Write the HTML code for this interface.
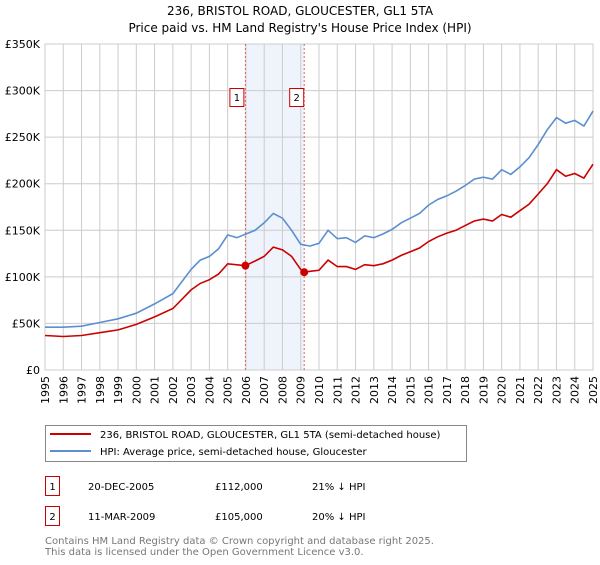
<!DOCTYPE html>
<html><head><meta charset="utf-8"><style>
body{margin:0;background:#fff;font-family:"Liberation Sans","DejaVu Sans",sans-serif;}
svg text{font-family:"DejaVu Sans","Liberation Sans",sans-serif;}
</style></head><body>
<svg width="600" height="560" xmlns="http://www.w3.org/2000/svg" id="chart">
<text x="300" y="15" text-anchor="middle" font-size="12">236, BRISTOL ROAD, GLOUCESTER, GL1 5TA</text>
<text x="300" y="32" text-anchor="middle" font-size="12">Price paid vs. HM Land Registry's House Price Index (HPI)</text>
<g id="plot"></g>
<g>
<rect x="45.5" y="425.5" width="421" height="36" fill="#fff" stroke="#888"/>
<line x1="50" y1="434" x2="91" y2="434" stroke="#cc0000" stroke-width="2"/>
<text x="100" y="438" font-size="10">236, BRISTOL ROAD, GLOUCESTER, GL1 5TA (semi-detached house)</text>
<line x1="50" y1="451" x2="91" y2="451" stroke="#5b8fd0" stroke-width="2"/>
<text x="100" y="455" font-size="10">HPI: Average price, semi-detached house, Gloucester</text>
</g>
<g font-size="10">
<rect x="45.5" y="476.5" width="14" height="19" fill="#fff" stroke="#cc0000"/>
<text x="52.5" y="490" text-anchor="middle">1</text>
<text x="88" y="490">20-DEC-2005</text><text x="215" y="490">£112,000</text><text x="312" y="490">21% ↓ HPI</text>
<rect x="45.5" y="506.5" width="14" height="19" fill="#fff" stroke="#cc0000"/>
<text x="52.5" y="520" text-anchor="middle">2</text>
<text x="88" y="520">11-MAR-2009</text><text x="215" y="520">£105,000</text><text x="312" y="520">20% ↓ HPI</text>
</g>
<text x="45" y="544" font-size="10" fill="#777">Contains HM Land Registry data © Crown copyright and database right 2025.</text>
<text x="45" y="555" font-size="10" fill="#777">This data is licensed under the Open Government Licence v3.0.</text>
</svg>
<script>
const hpiYears=[1995,1996,1997,1998,1999,2000,2001,2002,2003,2003.5,2004,2004.5,2005,2005.5,2006,2006.5,2007,2007.5,2008,2008.5,2009,2009.5,2010,2010.5,2011,2011.5,2012,2012.5,2013,2013.5,2014,2014.5,2015,2015.5,2016,2016.5,2017,2017.5,2018,2018.5,2019,2019.5,2020,2020.5,2021,2021.5,2022,2022.5,2023,2023.5,2024,2024.5,2025];
const hpiValues=[46,46,47,51,55,61,71,82,108,118,122,130,145,142,146,150,158,168,163,150,135,133,136,150,141,142,137,144,142,146,151,158,163,168,177,183,187,192,198,205,207,205,215,210,218,228,242,258,271,265,268,262,278];
const redYears=[1995,1996,1997,1998,1999,2000,2001,2002,2003,2003.5,2004,2004.5,2005,2005.97,2006.5,2007,2007.5,2008,2008.5,2009,2009.19,2009.5,2010,2010.5,2011,2011.5,2012,2012.5,2013,2013.5,2014,2014.5,2015,2015.5,2016,2016.5,2017,2017.5,2018,2018.5,2019,2019.5,2020,2020.5,2021,2021.5,2022,2022.5,2023,2023.5,2024,2024.5,2025];
const redValues=[37,36,37,40,43,49,57,66,86,93,97,103,114,112,117,122,132,129,122,108,105,106,107,118,111,111,108,113,112,114,118,123,127,131,138,143,147,150,155,160,162,160,167,164,171,178,189,200,215,208,211,206,221];
const saleYears=[2005.97,2009.19];
const saleValues=[112,105];
const saleLabels=["1","2"];
const yTicks=[0,50,100,150,200,250,300,350];
const yTickLabels=["£0","£50K","£100K","£150K","£200K","£250K","£300K","£350K"];
const xTicks=[1995,1996,1997,1998,1999,2000,2001,2002,2003,2004,2005,2006,2007,2008,2009,2010,2011,2012,2013,2014,2015,2016,2017,2018,2019,2020,2021,2022,2023,2024,2025];

const X0=45,X1=593,Y0=370,Y1=44;
const xs=v=>X0+(v-1995)/30*(X1-X0);
const ys=v=>Y0-v/350*(Y0-Y1);
const NS="http://www.w3.org/2000/svg";
const g=document.getElementById('plot');
function mk(t,a){const e=document.createElementNS(NS,t);for(const k in a)e.setAttribute(k,a[k]);g.appendChild(e);return e;}
let e=mk('rect',{x:xs(saleYears[0]),y:Y1,width:xs(saleYears[1])-xs(saleYears[0]),height:Y0-Y1,fill:'#eef3fc'});


yTicks.forEach((t,i)=>{
 let l=mk('line',{x1:X0,x2:X1,y1:ys(t),y2:ys(t),stroke:'#ccc'});
 
 
 let tx=mk('text',{x:40,y:ys(t)+4,'text-anchor':'end','font-size':'11'});tx.textContent=yTickLabels[i];
 
 
});
xTicks.forEach(t=>{
 let l=mk('line',{x1:xs(t),x2:xs(t),y1:Y1,y2:Y0,stroke:'#ccc'});
 
 
 let tx=mk('text',{x:0,y:0,'font-size':'11','text-anchor':'end',transform:`translate(${xs(t)+4},${Y0+6}) rotate(-90)`});tx.textContent=t;
 
 
});
e=mk('rect',{x:X0,y:Y1,width:X1-X0,height:Y0-Y1,fill:'none',stroke:'#ccc'});


saleYears.forEach((s,i)=>{
 let l=mk('line',{x1:xs(s),x2:xs(s),y1:Y1,y2:Y0,stroke:'#e06060','stroke-dasharray':'2,2'});
 
 
});
function path(xa,va,col,name){
 let d=xa.map((x,i)=>(i?'L':'M')+xs(x).toFixed(1)+','+ys(va[i]).toFixed(1)).join('');
 let p=mk('path',{d:d,fill:'none',stroke:col,'stroke-width':1.6});
 
 
}
path(hpiYears,hpiValues,'#5b8fd0','hpi-line');
path(redYears,redValues,'#cc0000','price-paid-line');
saleYears.forEach((s,i)=>{
 let c=mk('circle',{cx:xs(s),cy:ys(saleValues[i]),r:4,fill:'#cc0000'});
 
 
 let bx=xs(s)-(i?14:15);
 let r=mk('rect',{x:bx-0.5,y:88.5,width:14,height:18,fill:'#fff',stroke:'#cc0000'});
 
 
 let t=mk('text',{x:bx+6.5,y:101,'text-anchor':'middle','font-size':'10'});t.textContent=saleLabels[i];
 
 
});
</script>
</body></html>
